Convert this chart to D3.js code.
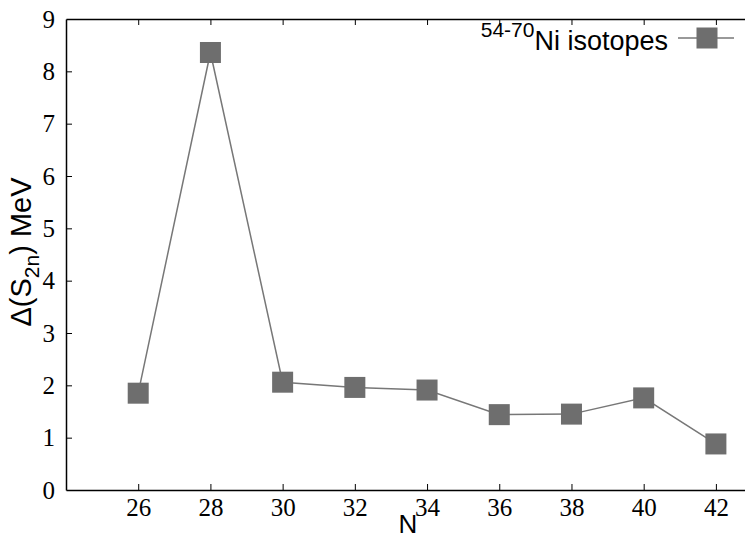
<!DOCTYPE html>
<html>
<head>
<meta charset="utf-8">
<script src="https://cdn.jsdelivr.net/npm/d3@7"></script>
<style>
  body { margin: 0; background: #fff; overflow: hidden; }
</style>
</head>
<body>
<div id="chart"></div>
<script>
// values
const neutrons = [26, 28, 30, 32, 34, 36, 38, 40, 42]
const deltaS2n = [1.85, 8.36, 2.06, 1.96, 1.91, 1.44, 1.45, 1.76, 0.88]
const xTicks = [26, 28, 30, 32, 34, 36, 38, 40, 42]
const yTicks = [0, 1, 2, 3, 4, 5, 6, 7, 8, 9]

const width = 745
const height = 539
const margin = {left: 66, top: 19, right: -7, bottom: 49}

const svg = d3.select("#chart")
    .append("svg")
    .attr("width", width)
    .attr("height", height)

const x = d3.scaleLinear()
    .domain([24, 43])
    .range([margin.left, width - margin.right])

const y = d3.scaleLinear()
    .domain([0, 9])
    .range([height - margin.bottom, margin.top])

const serifFont = "Liberation Serif"
const sansFont = "Liberation Sans"

// bottom axis
const xAxis = svg.append("g")
    .attr("transform", "translate(0," + y(0) + ")")
    .call(d3.axisBottom(x).tickValues(xTicks).tickSizeInner(-6).tickSizeOuter(0).tickPadding(8))
xAxis.attr("font-family", serifFont).attr("font-size", 25)
xAxis.selectAll("text").attr("fill", "#000")
xAxis.select(".domain").attr("stroke-width", 1.5)

// top mirrored ticks
const xTop = svg.append("g")
    .attr("transform", "translate(0," + y(9) + ")")
    .call(d3.axisTop(x).tickValues(xTicks).tickSizeInner(-6).tickSizeOuter(0).tickFormat(""))
xTop.select(".domain").attr("stroke-width", 1.5)

// left axis
const yAxis = svg.append("g")
    .attr("transform", "translate(" + x(24) + ",0)")
    .call(d3.axisLeft(y).tickValues(yTicks).tickSizeInner(-6).tickSizeOuter(0).tickPadding(11))
yAxis.attr("font-family", serifFont).attr("font-size", 25)
yAxis.selectAll("text").attr("fill", "#000")
yAxis.select(".domain").attr("stroke-width", 1.5)
yAxis.selectAll(".tick").filter(d => d === 0 || d === 9).select("line").remove()

// series line
const line = d3.line()
    .x((d, i) => x(neutrons[i]))
    .y(d => y(d))

svg.append("path")
    .datum(deltaS2n)
    .attr("d", line)
    .attr("fill", "none")
    .attr("stroke", "#777")
    .attr("stroke-width", 1.5)

const markerSize = 21
svg.selectAll("rect.pt")
    .data(deltaS2n)
    .enter()
    .append("rect")
    .attr("class", "pt")
    .attr("x", (d, i) => x(neutrons[i]) - markerSize / 2)
    .attr("y", d => y(d) - markerSize / 2)
    .attr("width", markerSize)
    .attr("height", markerSize)
    .attr("fill", "#6e6e6e")

// axis titles
svg.append("text")
    .attr("x", 408)
    .attr("y", 533)
    .attr("text-anchor", "middle")
    .attr("font-family", sansFont)
    .attr("font-size", 26)
    .text("N")

const yLabel = svg.append("text")
    .attr("transform", "translate(31,252) rotate(-90)")
    .attr("text-anchor", "middle")
    .attr("font-family", sansFont)
    .attr("font-size", 29)
yLabel.append("tspan").text("\u0394(S")
yLabel.append("tspan").attr("dy", 8).attr("font-size", 21).text("2n")
yLabel.append("tspan").attr("dy", -8).text(") MeV")

// legend
const legend = svg.append("g")
legend.append("line")
    .attr("x1", 678).attr("x2", 734)
    .attr("y1", 38).attr("y2", 38)
    .attr("stroke", "#777")
    .attr("stroke-width", 1.5)
legend.append("rect")
    .attr("x", 707 - markerSize / 2)
    .attr("y", 38 - markerSize / 2)
    .attr("width", markerSize)
    .attr("height", markerSize)
    .attr("fill", "#6e6e6e")
const legendText = legend.append("text")
    .attr("x", 668)
    .attr("y", 50)
    .attr("text-anchor", "end")
    .attr("font-family", sansFont)
    .attr("font-size", 27)
legendText.append("tspan").attr("dy", -13).attr("font-size", 21).text("54-70")
legendText.append("tspan").attr("dy", 13).text("Ni isotopes")
</script>
</body>
</html>
